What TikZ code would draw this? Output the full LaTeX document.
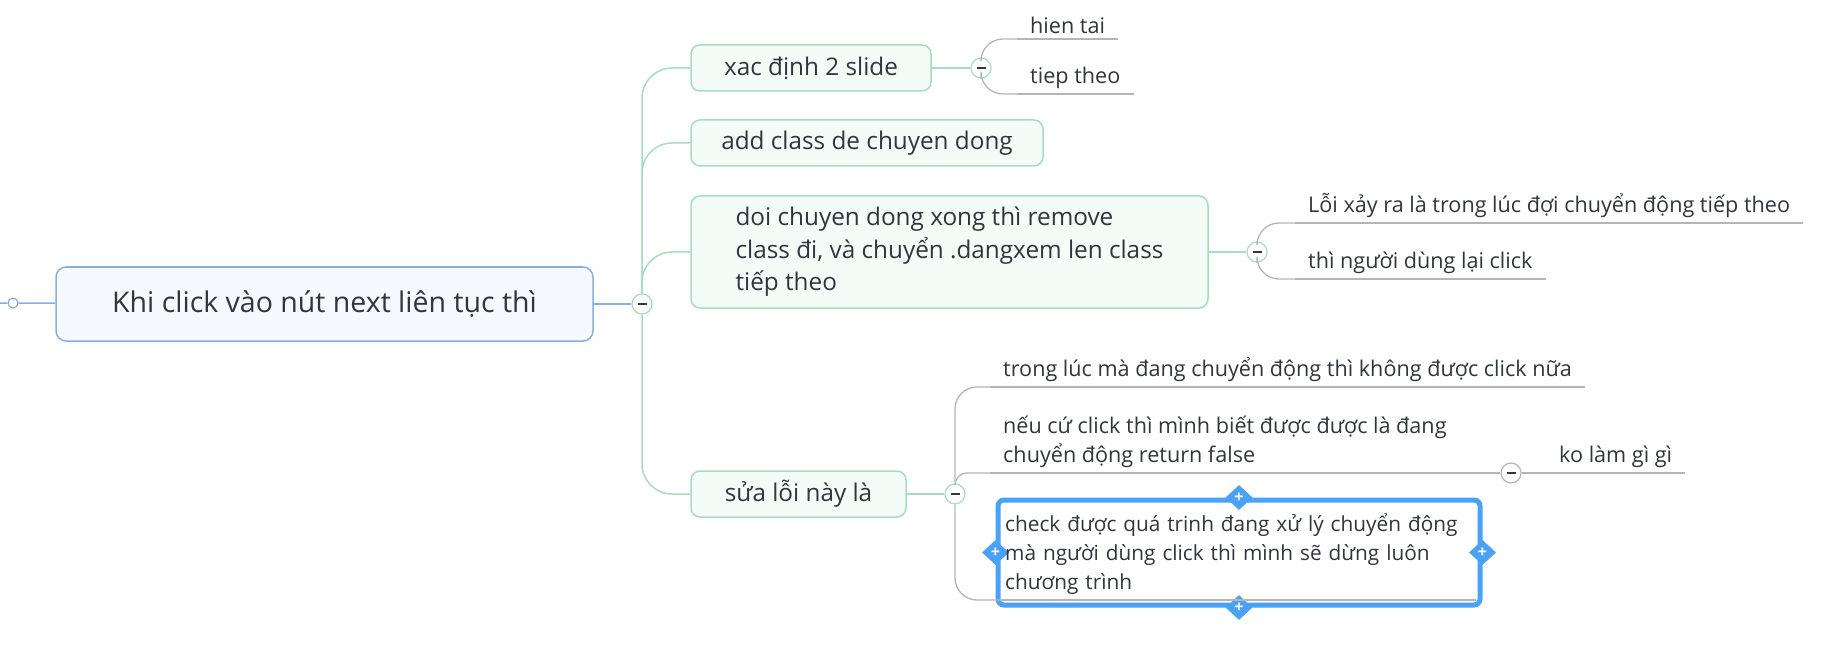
\documentclass[tikz,border=0pt]{standalone}
\usepackage{fontspec}
\setmainfont{Open Sans}
\usepackage{xcolor}
\usetikzlibrary{shapes.geometric,calc}
\definecolor{rootline}{HTML}{8AAEDD}
\definecolor{rootfill}{HTML}{F6FAFF}
\definecolor{topicline}{HTML}{A8DCBE}
\definecolor{topicfill}{HTML}{F4FCF8}
\definecolor{leafline}{HTML}{B5B5B5}
\definecolor{inktext}{HTML}{30363B}
\definecolor{selblue}{HTML}{4AA2F6}

\begin{document}
\begin{tikzpicture}[
    x=1pt, y=-1pt,
    root/.style={rectangle, draw=rootline, fill=rootfill, line width=1.5pt, rounded corners=10pt, minimum width=537pt, minimum height=74pt, font=\fontsize{28.5}{33}\selectfont, text=inktext},
    topic/.style={rectangle, draw=topicline, fill=topicfill, line width=1.5pt, rounded corners=9pt, minimum height=46pt, font=\fontsize{24.3}{32.5}\selectfont, text=inktext},
    leaf/.style={anchor=south west, inner xsep=13pt, inner ysep=5pt, font=\fontsize{21.6}{29}\selectfont, text=inktext, align=left},
    fold/.style={circle, draw=topicline, fill=white, line width=1.2pt, minimum size=20pt, inner sep=0pt,
        path picture={\draw[inktext, line width=1.6pt] ([xshift=-4.5pt]path picture bounding box.center) -- ([xshift=4.5pt]path picture bounding box.center);}},
    trunk/.style={draw=topicline, line width=1.5pt, rounded corners=30pt},
    twig/.style={draw=leafline, line width=1.3pt, rounded corners=22pt},
    grip/.style={diamond, fill=selblue, minimum width=27pt, minimum height=25pt, inner sep=0pt, text=white, font=\bfseries\fontsize{16}{16}\selectfont}
]
    \useasboundingbox (0,0) rectangle (1837,671);

    % Central topic
    \node[root] (root) at (324.5,304) {Khi click vào nút next liên tục thì};
    \node[circle, draw=rootline, fill=white, line width=1.2pt, minimum size=10pt, inner sep=0pt] (dot) at (13,303) {};
    \coordinate (edge) at (0,303);
    \draw[rootline, line width=1.5pt] (edge) -- (dot) (dot) -- (root);
    \node[fold] (f0) at (642,304) {};
    \draw[rootline, line width=1.5pt] (root) -- (f0);

    % Main branches
    \node[topic, minimum width=240pt] (t1) at (811,68) {xac định 2 slide};
    \node[topic, minimum width=352pt] (t2) at (867,143) {add class de chuyen dong};
    \node[topic, minimum width=517pt, minimum height=112pt, align=left] (t3) at (949.5,252) {doi chuyen dong xong thì remove\\class đi, và chuyển .dangxem len class\\tiếp theo};
    \node[topic, minimum width=215pt] (t4) at (798.5,494) {sửa lỗi này là};

    \draw[trunk] (f0.north) |- (t1.west);
    \draw[trunk] (f0.north) |- (t2.west);
    \draw[trunk] (f0.north) |- (t3.west);
    \draw[trunk] (f0.south) |- (t4.west);

    % Branch 1
    \node[fold] (f1) at (981,68) {};
    \draw[topicline, line width=1.5pt] (t1) -- (f1);
    \node[leaf] (l1) at (1017,39) {hien tai};
    \node[leaf] (l2) at (1017,94) {tiep theo};
    \draw[twig] (f1.north) |- (l1.south west);
    \draw[twig] (f1.south) |- (l2.south west);

    % Branch 3
    \node[fold] (f2) at (1257,252) {};
    \draw[topicline, line width=1.5pt] (t3) -- (f2);
    \node[leaf] (l3) at (1295,223) {Lỗi xảy ra là trong lúc đợi chuyển động tiếp theo};
    \node[leaf] (l4) at (1295,279) {thì người dùng lại click};
    \draw[twig] (f2.north) |- (l3.south west);
    \draw[twig] (f2.south) |- (l4.south west);

    % Branch 4
    \node[fold] (f3) at (955,494) {};
    \draw[topicline, line width=1.5pt] (t4) -- (f3);
    \node[leaf] (l5) at (990,387) {trong lúc mà đang chuyển động thì không được click nữa};
    \node[leaf] (l6) at (990,473) {nếu cứ click thì mình biết được được là đang\\chuyển động return false};
    \draw[twig] (f3.north) |- (l5.south west);
    \draw[twig, rounded corners=12pt] (f3.north) |- (l6.south west);

    % Selected topic
    \node[rectangle, draw=selblue, fill=white, line width=5pt, rounded corners=6pt, minimum width=482pt, minimum height=105pt] (sel) at (1239,552.5) {};
    \node[grip] (gT) at (sel.north) {+};
    \node[grip] (gB) at (sel.south) {+};
    \node[grip] (gL) at (sel.west) {+};
    \node[grip] (gR) at (sel.east) {+};
    \node[leaf, text width=466pt, inner xsep=5pt, font=\fontsize{20.8}{29}\selectfont] (l7) at (1000,600) {check được quá trinh đang xử lý chuyển động\\mà người dùng click thì mình sẽ dừng luôn\\chương trình};
    \draw[twig] (f3.south) |- (l7.south west);

    % Sub leaf
    \node[fold, draw=leafline] (f4) at (1511,473) {};
    \node[leaf] (l8) at (1546,473) {ko làm gì gì};
    \draw[twig] (l6.south east) -- (f4);
    \draw[twig] (f4) -- (l8.south west);

    % Underlines
    \foreach \n in {l1,l2,l3,l4,l5,l6,l7,l8}
        \draw[leafline, line width=1.3pt] (\n.south west) -- (\n.south east);
\end{tikzpicture}
\end{document}
